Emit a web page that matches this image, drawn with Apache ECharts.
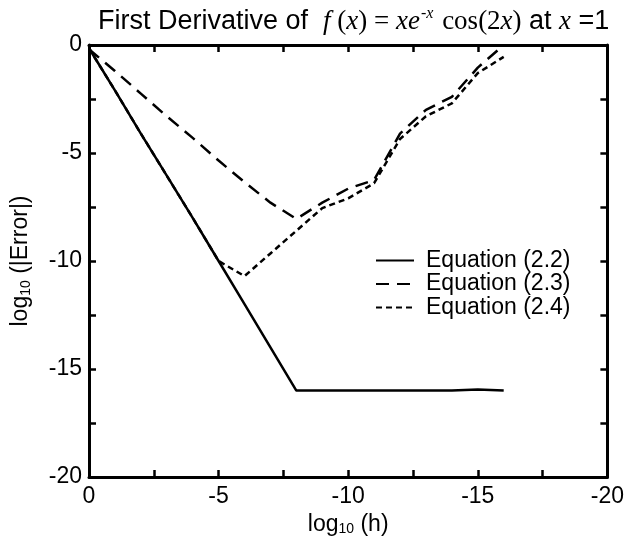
<!DOCTYPE html>
<html>
<head>
<meta charset="utf-8">
<script src="https://cdn.jsdelivr.net/npm/echarts@6/dist/echarts.min.js"></script>
<style>
html,body{margin:0;padding:0;background:#fff;}
#chart{width:627px;height:542px;}
</style>
</head>
<body>
<div id="chart"></div>
<script>
// log10(h) values
const logH = [0, -1, -2, -3, -4, -5, -6, -7, -8, -9, -10, -11, -12, -13, -14, -15, -16];
// log10(|Error|) for each formula
const eq22 = [-0.15, -2.1, -4.1, -6.05, -8.0, -10.0, -12.0, -14.0, -16.0, -16.0, -16.0, -16.0, -16.0, -16.0, -16.0, -15.95, -16.0];
const eq23 = [-0.2, -1.2, -2.25, -3.3, -4.3, -5.35, -6.35, -7.3, -8.05, -7.3, -6.65, -6.25, -4.1, -3.0, -2.4, -1.05, 0.0];
const eq24 = [-0.15, -2.1, -4.1, -6.05, -8.0, -10.0, -10.7, -9.65, -8.6, -7.55, -7.1, -6.4, -4.35, -3.3, -2.7, -1.3, -0.55];
const seriesNames = ['Equation (2.2)', 'Equation (2.3)', 'Equation (2.4)'];
const xTicks = [0, -5, -10, -15, -20];
const yTicks = [0, -5, -10, -15, -20];

const SANS = 'Liberation Sans, Arial, Helvetica, sans-serif';
const SERIF = 'Liberation Serif, Times New Roman, serif';
const FS = 23;

function pairs(ys) { return logH.map((x, i) => [x, ys[i]]); }
function fmt(v, ticks) { return ticks.indexOf(v) >= 0 ? (v === 0 ? '0' : String(v)) : ''; }

const axisLine = { show: true, onZero: false, lineStyle: { color: '#000', width: 3 } };
const axisTick = { show: true, inside: true, length: 7, lineStyle: { color: '#000', width: 2.5 } };

const chart = echarts.init(document.getElementById('chart'), null, { renderer: 'canvas' });
chart.setOption({
  animation: false,
  backgroundColor: '#fff',
  title: {
    left: 93,
    top: 1,
    text: '{a|First Derivative of  }{mi|f}{m| (}{mi|x}{m|) = }{mi|xe}{sup|-x}{m| cos(2}{mi|x}{m|)}{a| at }{mi|x}{a| =1}',
    textStyle: {
      fontWeight: 'normal',
      rich: {
        a: { fontFamily: SANS, fontSize: 27, fontWeight: 'normal', color: '#000', lineHeight: 32 },
        m: { fontFamily: SERIF, fontSize: 27, fontWeight: 'normal', color: '#000', lineHeight: 32 },
        mi: { fontFamily: SERIF, fontStyle: 'italic', fontSize: 27, fontWeight: 'normal', color: '#000', lineHeight: 32 },
        sup: { fontFamily: SERIF, fontStyle: 'italic', fontSize: 16, fontWeight: 'normal', color: '#000', verticalAlign: 'top', lineHeight: 32, padding: [0, 2, 0, 1] }
      }
    }
  },
  grid: { left: 89, right: 15, top: 45, bottom: 65, containLabel: false },
  legend: {
    orient: 'vertical',
    left: 370,
    top: 244,
    itemWidth: 38,
    itemHeight: 10,
    itemGap: 0.5,
    data: seriesNames,
    itemStyle: { opacity: 0, borderWidth: 0 },
    textStyle: { fontFamily: SANS, fontSize: FS, color: '#000', lineHeight: 22, padding: [0, 0, 0, 7] }
  },
  xAxis: [
    {
      type: 'value', min: -20, max: 0, interval: 2.5, inverse: true, position: 'bottom',
      axisLine: axisLine, axisTick: axisTick, splitLine: { show: false },
      axisLabel: { show: true, margin: 8, fontFamily: SANS, fontSize: FS, color: '#000', showMinLabel: true, showMaxLabel: true, formatter: v => fmt(v, xTicks) },
      name: '{t|log}{s|10}{t| (h)}', nameLocation: 'middle', nameGap: 34,
      nameTextStyle: { rich: { t: { fontFamily: SANS, fontSize: FS, color: '#000' }, s: { fontFamily: SANS, fontSize: 14, color: '#000', verticalAlign: 'bottom', padding: [10, 0, 0, 0] } } }
    },
    {
      type: 'value', min: -20, max: 0, interval: 2.5, inverse: true, position: 'top',
      axisLine: axisLine, axisTick: axisTick, splitLine: { show: false }, axisLabel: { show: false }
    }
  ],
  yAxis: [
    {
      type: 'value', min: -20, max: 0, interval: 2.5, position: 'left',
      axisLine: axisLine, axisTick: axisTick, splitLine: { show: false },
      axisLabel: { show: true, margin: 7, fontFamily: SANS, fontSize: FS, color: '#000', showMinLabel: true, showMaxLabel: true, formatter: v => fmt(v, yTicks) },
      name: '{t|log}{s|10}{t| (|Error|)}', nameLocation: 'middle', nameGap: 56, nameRotate: 90,
      nameTextStyle: { rich: { t: { fontFamily: SANS, fontSize: FS, color: '#000' }, s: { fontFamily: SANS, fontSize: 14, color: '#000', verticalAlign: 'bottom', padding: [10, 0, 0, 0] } } }
    },
    {
      type: 'value', min: -20, max: 0, interval: 2.5, position: 'right',
      axisLine: axisLine, axisTick: axisTick, splitLine: { show: false }, axisLabel: { show: false }
    }
  ],
  series: [
    { name: seriesNames[0], type: 'line', data: pairs(eq22), symbol: 'none', clip: true, lineStyle: { color: '#000', width: 2.5, type: 'solid' }, itemStyle: { color: '#000' } },
    { name: seriesNames[1], type: 'line', data: pairs(eq23), symbol: 'none', clip: true, lineStyle: { color: '#000', width: 2.5, type: [13, 8] }, itemStyle: { color: '#000' } },
    { name: seriesNames[2], type: 'line', data: pairs(eq24), symbol: 'none', clip: true, lineStyle: { color: '#000', width: 2.5, type: [6, 4] }, itemStyle: { color: '#000' } }
  ]
});
</script>
</body>
</html>
